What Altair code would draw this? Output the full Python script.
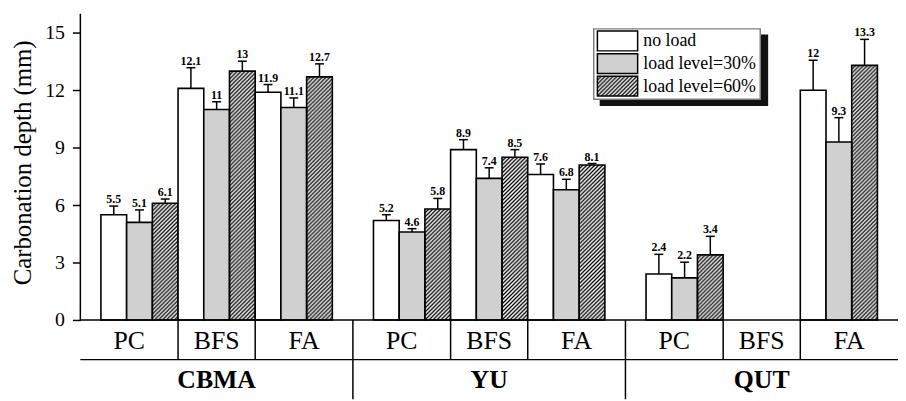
import base64
import altair as alt
import pandas as pd

# ---------------- data ----------------
majors = ["CBMA", "YU", "QUT"]
subs = ["PC", "BFS", "FA"]
series = ["no load", "load level=30%", "load level=60%"]

# order: CBMA PC, BFS, FA, YU PC, BFS, FA, QUT PC, BFS, FA
no_load = [5.5, 12.1, 11.9, 5.2, 8.9, 7.6, 2.4, None, 12.0]
load_30 = [5.1, 11.0, 11.1, 4.6, 7.4, 6.8, 2.2, None, 9.3]
load_60 = [6.1, 13.0, 12.7, 5.8, 8.5, 8.1, 3.4, None, 13.3]
err_no_load = [0.45, 1.08, 0.40, 0.30, 0.52, 0.55, 1.03, None, 1.57]
err_30 = [0.65, 0.40, 0.50, 0.17, 0.55, 0.55, 0.82, None, 1.27]
err_60 = [0.22, 0.52, 0.68, 0.55, 0.40, 0.07, 0.97, None, 1.36]

y_ticks = [0, 3, 6, 9, 12, 15]
y_title = "Carbonation depth (mm)"

# ---------------- layout (in scale units) ----------------
G = 10.6      # width of one major group (bar = 1 unit)
P = 0.8       # padding at each side of a major group
ROW = 2.07    # height of one row of the category table
YMAX = 16
FONT = "Liberation Serif"

values = [no_load, load_30, load_60]
errors = [err_no_load, err_30, err_60]

rows = []
for m, maj in enumerate(majors):
    for s, sub in enumerate(subs):
        for k, ser in enumerate(series):
            v = values[k][m * 3 + s]
            e = errors[k][m * 3 + s]
            if v is None:
                continue
            x0 = m * G + P + s * 3 + k
            rows.append({"major": maj, "sub": sub, "series": ser,
                         "value": v, "top": v + e, "label": f"{v:g}",
                         "x0": x0, "x1": x0 + 1, "xc": x0 + 0.5})
bars = pd.DataFrame(rows)

x_scale = alt.Scale(domain=[0, 3 * G], nice=False, zero=False)
y_scale = alt.Scale(domain=[-2 * ROW, YMAX], nice=False, zero=False)

hatch_svg = (
    "<svg xmlns='http://www.w3.org/2000/svg' width='100%' height='100%'>"
    "<defs><pattern id='h' width='4' height='4' patternUnits='userSpaceOnUse'>"
    "<rect width='4' height='4' fill='white'/>"
    "<path d='M-1,1 l2,-2 M0,4 l4,-4 M3,5 l2,-2' stroke='black' stroke-width='1.3'/>"
    "</pattern></defs><rect width='100%' height='100%' fill='url(#h)'/></svg>"
)
HATCH = "data:image/svg+xml;base64," + base64.b64encode(hatch_svg.encode()).decode()

base = alt.Chart(bars)

hatched = base.transform_filter(alt.datum.series == series[2]).mark_image(
    url=HATCH, aspect=False
).encode(
    x=alt.X("x0:Q", scale=x_scale, axis=None),
    x2="x1:Q",
    y=alt.Y("value:Q", scale=y_scale),
    y2=alt.datum(0),
)

rects = base.mark_rect(stroke="black", strokeWidth=1.6).encode(
    x=alt.X("x0:Q", scale=x_scale, axis=None),
    x2="x1:Q",
    y=alt.Y("value:Q", scale=y_scale,
            axis=alt.Axis(values=y_ticks, title=y_title, grid=False, domain=False,
                          tickSize=8, tickWidth=1.5, tickColor="black",
                          labelFont=FONT, labelFontSize=20, labelColor="black",
                          labelPadding=8, titleFont=FONT, titleFontSize=25,
                          titleFontWeight="normal", titleColor="black",
                          titleAngle=-90, titleAlign="center",
                          titleBaseline="alphabetic", titleX=-50, titleY=150)),
    y2=alt.datum(0),
    fill=alt.Color("series:N", legend=None,
                   scale=alt.Scale(domain=series,
                                   range=["#ffffff", "#d0d0d0", "rgba(0,0,0,0)"])),
)

err_lines = base.mark_rule(color="black", strokeWidth=1.5).encode(
    x="xc:Q", y="value:Q", y2="top:Q"
)
err_caps = base.mark_tick(orient="horizontal", size=9, thickness=1.5,
                          color="black", opacity=1).encode(x="xc:Q", y="top:Q")
labels = base.mark_text(baseline="alphabetic", dy=-3, font=FONT, fontSize=12,
                        fontWeight="bold", color="black").encode(
    x="xc:Q", y="top:Q", text="label:N"
)

# ---------------- y axis line ----------------
axis_line = alt.Chart(pd.DataFrame({"y": [0], "y2": [YMAX]})).mark_rule(
    color="black", strokeWidth=1.5
).encode(x=alt.value(0), y=alt.Y("y:Q", scale=y_scale), y2="y2:Q")

# ---------------- category table below the axis ----------------
hlines = pd.DataFrame({"x": [0, 0], "x2": [3 * G, 3 * G], "y": [0, -ROW]})
vl = []
for m in range(3):
    vl.append({"x": m * G + P + 3, "y": 0, "y2": -ROW})
    vl.append({"x": m * G + P + 6, "y": 0, "y2": -ROW})
for m in range(1, 3):
    vl.append({"x": m * G, "y": 0, "y2": -2 * ROW})
vlines = pd.DataFrame(vl)

h_rules = alt.Chart(hlines).mark_rule(color="black", strokeWidth=1.5).encode(
    x=alt.X("x:Q", scale=x_scale), x2="x2:Q", y=alt.Y("y:Q", scale=y_scale))
v_rules = alt.Chart(vlines).mark_rule(color="black", strokeWidth=1.5).encode(
    x=alt.X("x:Q", scale=x_scale), y=alt.Y("y:Q", scale=y_scale), y2="y2:Q")

sub_rows = []
for m in range(3):
    cells = [(m * G, m * G + P + 3), (m * G + P + 3, m * G + P + 6),
             (m * G + P + 6, (m + 1) * G)]
    for s, sub in enumerate(subs):
        sub_rows.append({"text": sub, "x": (cells[s][0] + cells[s][1]) / 2, "y": -ROW / 2})
sub_df = pd.DataFrame(sub_rows)
maj_df = pd.DataFrame({"text": majors,
                       "x": [m * G + G / 2 for m in range(3)],
                       "y": [-1.5 * ROW] * 3})

sub_text = alt.Chart(sub_df).mark_text(font=FONT, fontSize=26, color="black",
                                       baseline="middle", dy=1).encode(
    x=alt.X("x:Q", scale=x_scale), y=alt.Y("y:Q", scale=y_scale), text="text:N")
maj_text = alt.Chart(maj_df).mark_text(font=FONT, fontSize=26, fontWeight="bold",
                                       color="black", baseline="middle", dy=1).encode(
    x=alt.X("x:Q", scale=x_scale), y=alt.Y("y:Q", scale=y_scale), text="text:N")

# ---------------- legend (drawn by hand, with shadow) ----------------
leg_box = pd.DataFrame({"a": [0]})
shadow = alt.Chart(leg_box).mark_rect(fill="#111111").encode(
    x=alt.value(524), x2=alt.value(694), y=alt.value(21), y2=alt.value(93))
frame = alt.Chart(leg_box).mark_rect(fill="white", stroke="#808080", strokeWidth=1.5).encode(
    x=alt.value(518), x2=alt.value(686), y=alt.value(15.3), y2=alt.value(86.3))

leg_layers = []
for i, ser in enumerate(series):
    y0 = 17.5 + i * 22.8
    d = pd.DataFrame({"series": [ser]})
    if i == 2:
        leg_layers.append(alt.Chart(d).mark_image(url=HATCH, aspect=False).encode(
            x=alt.value(521.7), x2=alt.value(562.3), y=alt.value(y0), y2=alt.value(y0 + 20)))
    leg_layers.append(alt.Chart(d).mark_rect(stroke="black", strokeWidth=1.5).encode(
        x=alt.value(521.7), x2=alt.value(562.3), y=alt.value(y0), y2=alt.value(y0 + 20),
        fill=alt.Color("series:N", legend=None,
                       scale=alt.Scale(domain=series,
                                       range=["#ffffff", "#d0d0d0", "rgba(0,0,0,0)"]))))
    leg_layers.append(alt.Chart(d).mark_text(align="left", baseline="middle", font=FONT,
                                             fontSize=18, color="black").encode(
        x=alt.value(568), y=alt.value(y0 + 10.5), text="series:N"))

chart = alt.layer(
    hatched, rects, err_lines, err_caps, labels, axis_line,
    h_rules, v_rules, sub_text, maj_text, shadow, frame, *leg_layers
).properties(
    width=825, height=389,
    padding={"left": 73, "top": 4, "right": 0, "bottom": 0},
    autosize=alt.AutoSizeParams(type="none"),
).configure_view(stroke=None)

chart.save("out.html", embed_options={"renderer": "svg", "actions": False})
